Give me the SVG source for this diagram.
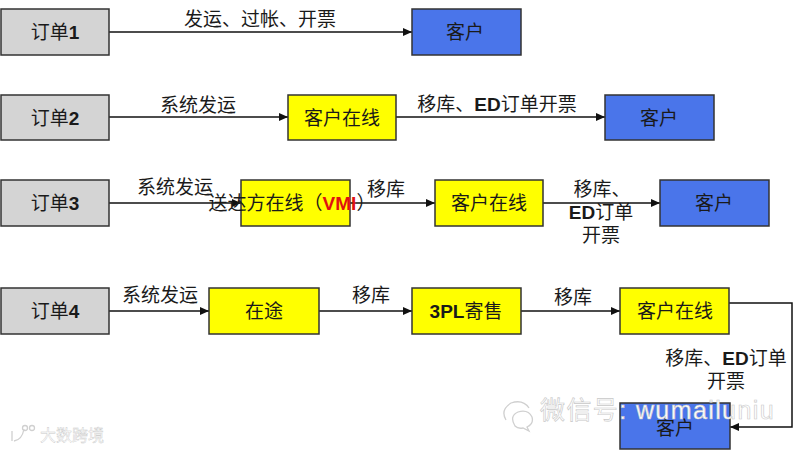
<svg xmlns="http://www.w3.org/2000/svg" width="800" height="451" viewBox="0 0 800 451">
<style>
text{font-family:"Liberation Sans","Noto Sans CJK SC",sans-serif;font-size:19px;fill:#1a1a1a;text-anchor:middle}
.n{stroke:#333;stroke-width:1.5}
.g{fill:#d4d4d4}.y{fill:#ffff00}.b{fill:#4a75ea}
.c{fill:none;stroke:#111;stroke-width:1.5;marker-end:url(#a)}
.bd{font-weight:bold}
.r{font-weight:bold;fill:#e01010}
.wm{fill:#fff;stroke:#c8c8c8;stroke-width:.6;text-anchor:start}
.wl{fill:none;stroke:#d0d0d0;stroke-width:1.3}
</style>
<defs><marker id="a" markerUnits="userSpaceOnUse" markerWidth="10" markerHeight="10" refX="9" refY="5" orient="auto"><path d="M0 1L9 5L0 9Z" fill="#111"/></marker></defs>
<rect width="800" height="451" fill="#fff"/>
<g id="connectors">
<path class="c" d="M109 32H412"/>
<path class="c" d="M109 117H288"/>
<path class="c" d="M396 117H605"/>
<path class="c" d="M109 203H241"/>
<path class="c" d="M350 203H435"/>
<path class="c" d="M543 203H660"/>
<path class="c" d="M109 311H209"/>
<path class="c" d="M319 311H412"/>
<path class="c" d="M521 311H620"/>
<path class="c" d="M729 303H792V427H730"/>
</g>
<g id="order1"><rect class="n g" x="1" y="9" width="108" height="46"/><text x="55" y="39">订单<tspan class="bd">1</tspan></text></g>
<g id="order2"><rect class="n g" x="1" y="95" width="108" height="45"/><text x="55" y="125">订单<tspan class="bd">2</tspan></text></g>
<g id="order3"><rect class="n g" x="1" y="180" width="108" height="46"/><text x="55" y="210">订单<tspan class="bd">3</tspan></text></g>
<g id="order4"><rect class="n g" x="1" y="288" width="108" height="46"/><text x="55" y="318">订单<tspan class="bd">4</tspan></text></g>
<g id="customer1"><rect class="n b" x="412" y="9" width="109" height="46"/><text x="465" y="39">客户</text></g>
<g id="online2"><rect class="n y" x="288" y="95" width="108" height="45"/><text x="342" y="125">客户在线</text></g>
<g id="customer2"><rect class="n b" x="605" y="95" width="109" height="45"/><text x="659" y="125">客户</text></g>
<g id="vmi"><rect class="n y" x="241" y="180" width="109" height="46"/><text x="292" y="210">送达方在线（<tspan class="r">VMI</tspan>）</text></g>
<g id="online3"><rect class="n y" x="435" y="180" width="108" height="46"/><text x="489" y="210">客户在线</text></g>
<g id="customer3"><rect class="n b" x="660" y="180" width="109" height="46"/><text x="714" y="210">客户</text></g>
<g id="transit"><rect class="n y" x="209" y="288" width="110" height="46"/><text x="264" y="318">在途</text></g>
<g id="pl3"><rect class="n y" x="412" y="288" width="109" height="46"/><text x="466" y="318"><tspan class="bd">3PL</tspan>寄售</text></g>
<g id="online4"><rect class="n y" x="620" y="288" width="109" height="46"/><text x="675" y="318">客户在线</text></g>
<g id="customer4"><rect class="n b" x="620" y="403" width="110" height="46"/><text x="675" y="435">客户</text></g>
<g id="labels">
<text x="260" y="26">发运、过帐、开票</text>
<text x="198" y="112">系统发运</text>
<text x="497" y="111">移库、<tspan class="bd">ED</tspan>订单开票</text>
<text x="175" y="194">系统发运</text>
<text x="386" y="196">移库</text>
<text x="602" y="196">移库、</text>
<text x="601" y="219"><tspan class="bd">ED</tspan>订单</text>
<text x="601" y="242">开票</text>
<text x="160" y="302">系统发运</text>
<text x="371" y="302">移库</text>
<text x="573" y="304">移库</text>
<text x="726" y="365">移库、<tspan class="bd">ED</tspan>订单</text>
<text x="726" y="388">开票</text>
</g>
<g id="watermark">
<text class="wm" x="540" y="419" style="font-size:25px;letter-spacing:1.4px">微信号: wumailuniu</text>
<path class="wl" d="M506 420Q500 410 511 403Q523 399 529 408M515 426Q509 416 518 412Q528 409 532 417Q534 424 527 427L529 431L523 428Q518 429 515 426Z"/>
<text class="wm" x="40" y="441" style="font-size:16px;stroke-width:.4">大数跨境</text>
<path class="wl" d="M12 431V441M24 429Q22 440 14 441"/>
<circle class="wl" cx="25" cy="428" r="2.5"/><circle class="wl" cx="32" cy="428" r="2.5"/>
</g>
</svg>
